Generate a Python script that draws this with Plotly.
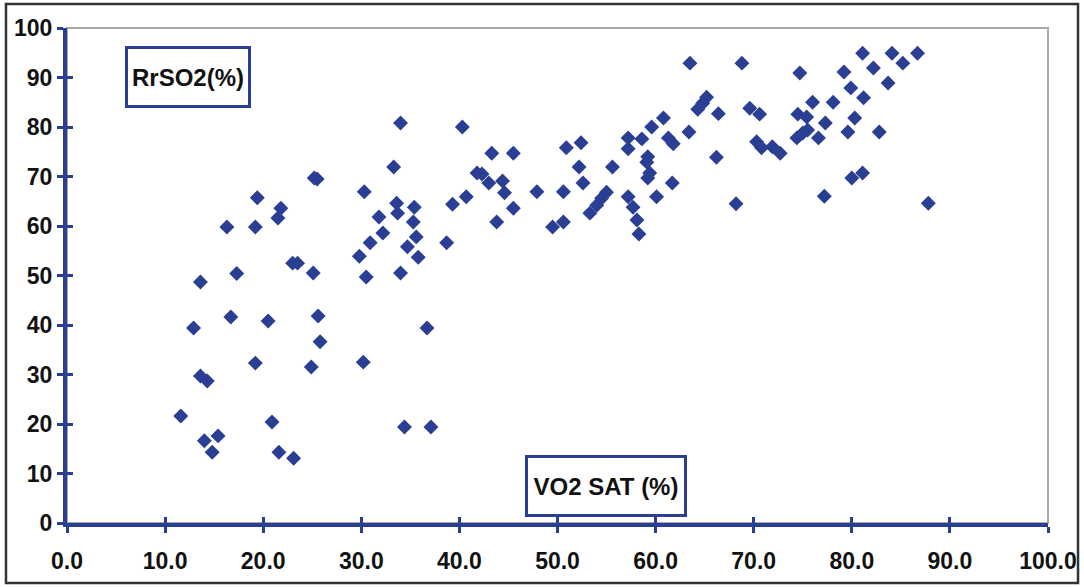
import plotly.graph_objects as go

# VO2 saturation (%) vs regional rSO2 (%) measurements
vo2_sat = [
    11.6, 12.9, 13.6, 13.6, 14.3, 14.0, 14.8, 15.4, 16.3, 16.7,
    17.3, 19.4, 19.2, 19.2, 20.5, 20.9, 21.8, 21.5, 21.6, 23.0,
    23.5, 23.1, 25.1, 25.2, 25.5, 24.9, 25.6, 25.8, 29.8, 30.3,
    30.5, 30.2, 30.9, 31.8, 32.2, 33.3, 33.6, 33.7, 34.0, 34.0,
    34.4, 34.7, 35.4, 35.3, 35.6, 35.8, 36.7, 37.1, 38.7, 39.3,
    40.3, 40.7, 41.8, 42.3, 43.0, 43.3, 43.8, 44.4, 44.6, 45.5,
    45.5, 47.9, 49.5, 50.6, 50.6, 50.9, 52.4, 52.2, 52.6, 53.3,
    54.0, 54.5, 55.0, 55.6, 57.2, 57.2, 58.6, 57.2, 57.7, 58.1,
    58.3, 59.2, 59.1, 59.4, 59.2, 59.6, 60.1, 60.8, 61.3, 61.8,
    61.7, 63.5, 63.4, 64.3, 64.8, 65.2, 66.2, 66.4, 68.2, 68.8,
    69.6, 70.6, 70.3, 70.8, 71.9, 72.7, 74.5, 75.4, 74.4, 75.0,
    75.5, 74.7, 76.0, 76.6, 77.2, 77.3, 78.1, 79.2, 79.6, 79.9,
    80.3, 80.0, 81.1, 81.1, 81.2, 82.2, 82.8, 83.7, 84.1, 85.2,
    86.7, 87.8,
]
rrso2 = [
    21.6, 39.4, 48.7, 29.7, 28.7, 16.6, 14.3, 17.6, 59.8, 41.6,
    50.4, 65.7, 59.8, 32.3, 40.8, 20.4, 63.6, 61.6, 14.3, 52.5,
    52.5, 13.1, 50.5, 69.7, 69.5, 31.5, 41.8, 36.6, 53.9, 66.9,
    49.7, 32.5, 56.6, 61.8, 58.6, 71.9, 64.6, 62.6, 80.8, 50.5,
    19.4, 55.8, 63.8, 60.8, 57.8, 53.7, 39.4, 19.4, 56.6, 64.4,
    80.0, 65.9, 70.7, 70.5, 68.7, 74.7, 60.8, 69.1, 66.7, 74.7,
    63.6, 66.9, 59.8, 60.8, 66.9, 75.8, 76.8, 71.9, 68.7, 62.6,
    64.2, 65.6, 66.8, 71.9, 77.8, 75.6, 77.6, 65.9, 63.8, 61.2,
    58.4, 74.0, 72.9, 70.7, 69.7, 80.0, 65.9, 81.8, 77.8, 76.6,
    68.7, 92.9, 79.0, 83.6, 84.8, 86.0, 73.9, 82.7, 64.5, 92.9,
    83.8, 82.6, 77.0, 75.8, 76.0, 74.7, 82.6, 82.0, 77.8, 78.8,
    79.4, 90.9, 85.0, 77.8, 66.0, 80.8, 85.0, 91.1, 79.0, 87.9,
    81.8, 69.7, 70.7, 94.9, 85.9, 91.9, 79.0, 88.9, 94.9, 92.9,
    94.9, 64.6,
]

x_ticks = [0, 10, 20, 30, 40, 50, 60, 70, 80, 90, 100]
y_ticks = [0, 10, 20, 30, 40, 50, 60, 70, 80, 90, 100]
y_label = "RrSO2(%)"
x_label = "VO2 SAT (%)"

BLUE = "#2A3F93"
FONT = "Liberation Sans, Arial, sans-serif"

fig = go.Figure()
fig.add_trace(go.Scatter(
    x=vo2_sat, y=rrso2, mode="markers",
    marker=dict(symbol="diamond", size=11.5, color=BLUE, line=dict(width=0)),
    showlegend=False, hoverinfo="x+y",
))

axis_common = dict(
    range=[0, 100], showgrid=False, zeroline=False, automargin=False,
    showline=True, linecolor=BLUE, linewidth=4,
    ticks="outside", ticklen=6, tickwidth=3, tickcolor=BLUE,
    tickfont=dict(family=FONT, size=23, color="#111111", weight="bold"),
)

fig.update_layout(
    width=1084, height=587,
    margin=dict(l=67, r=36, t=28, b=64),
    paper_bgcolor="white", plot_bgcolor="white",
    xaxis=dict(**axis_common, tickvals=x_ticks, tickformat=".1f",
               ticklabelstandoff=8),
    yaxis=dict(**axis_common, tickvals=y_ticks, ticklabelstandoff=0),
    # second pair of axes gives the ticks their inner half
    xaxis2=dict(range=[0, 100], overlaying="x", anchor="y", side="bottom",
                tickvals=x_ticks, ticks="inside", ticklen=6, tickwidth=3,
                tickcolor=BLUE, showticklabels=False, showgrid=False,
                zeroline=False, showline=False, automargin=False),
    yaxis2=dict(range=[0, 100], overlaying="y", anchor="x", side="left",
                tickvals=y_ticks, ticks="inside", ticklen=6, tickwidth=3,
                tickcolor=BLUE, showticklabels=False, showgrid=False,
                zeroline=False, showline=False, automargin=False),
)

# Invisible trace so the overlay axes get drawn
fig.add_trace(go.Scatter(x=[None], y=[None], xaxis="x2", yaxis="y2",
                         showlegend=False, hoverinfo="skip"))

# Thin grey frame on the top and right of the plot area
fig.add_shape(type="rect", xref="paper", yref="paper", x0=0, y0=0, x1=1, y1=1,
              line=dict(color="#A8A8A8", width=2), layer="below")

# Dark outer border around the whole chart
fig.add_shape(type="rect", xref="paper", yref="paper",
              x0=-0.0622, y0=-0.1212, x1=1.0306, y1=1.0485,
              line=dict(color="#333333", width=2.5))

box_font = dict(family=FONT, size=24, color="#111111", weight="bold")
fig.add_annotation(x=12.3, y=90.1, xref="x", yref="y", text=y_label,
                   showarrow=False, font=box_font, bgcolor="white",
                   bordercolor=BLUE, borderwidth=3, borderpad=0,
                   width=120, height=56)
fig.add_annotation(x=54.9, y=7.4, xref="x", yref="y", text=x_label,
                   showarrow=False, font=box_font, bgcolor="white",
                   bordercolor=BLUE, borderwidth=3, borderpad=0,
                   width=156, height=56)

fig.write_html("out.html")
